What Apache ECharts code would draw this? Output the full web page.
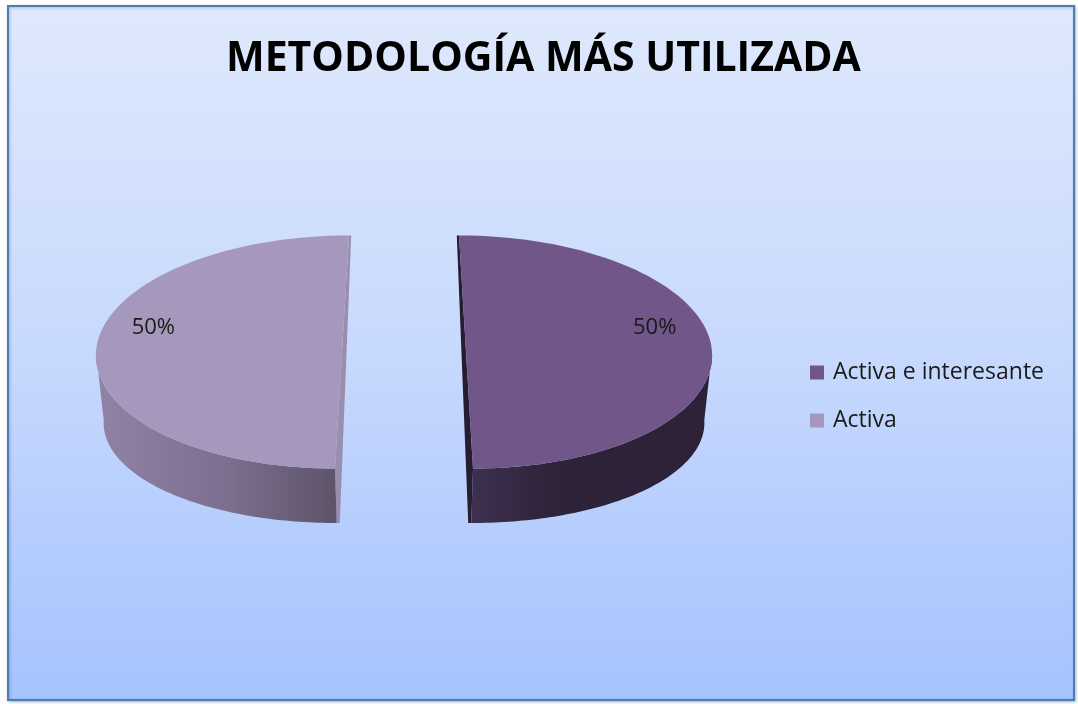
<!DOCTYPE html>
<html>
<head>
<meta charset="utf-8">
<title>Metodología más utilizada</title>
<script src="https://cdn.jsdelivr.net/npm/echarts@6/dist/echarts.min.js"></script>
<style>
    html, body {margin: 0; padding: 0; background: #fff;}
    #main {width: 1078px; height: 704px;}
</style>
</head>
<body>
<div id="main"></div>
<script>
// datos del gráfico
const categories = ['Activa e interesante', 'Activa'];
const values = [50, 50];

// colores de cada porción: cara superior, lateral (izq -> der) y corte
const topColors = ['#705689', '#a698bc'];
const sideColors = [
    [['#3e3050', 0], ['#2e2339', 0.35], ['#2c2137', 1]],
    [['#9183a5', 0], ['#7b6e8e', 0.55], ['#5e5469', 1]]
];
const cutColors = ['#271d31', '#9a8eae'];

// geometría del pastel 3D (px)
const CX = 404, CY = 352;     // centro de la cara superior
const RA = 246, RB = 116.5;   // semiejes de la elipse superior
const EXPLODE = 62;           // separación de las porciones
const PERSP = 0.113;          // la separación crece hacia el frente
const CYB = 420, RBB = 103;   // elipse inferior
const SB = 0.975;             // la base se estrecha un poco

const total = values.reduce((a, b) => a + b, 0);

// u, v: posición en el disco (radio 1); dir: dirección de la separación
function proj(u, v, dir, bottom, scale) {
    const s = bottom ? SB : 1;
    const x = RA * u + EXPLODE * dir * (1 + PERSP * v);
    return [CX + x * s * (scale || 1), bottom ? CYB + RBB * v : CY + RB * v];
}

function renderSlice(idx) {
    return function (params, api) {
        const val = api.value(0);
        let before = 0;
        for (let i = 0; i < idx; i++) before += values[i];
        const a0 = before / total * Math.PI * 2;
        const a1 = (before + val) / total * Math.PI * 2;
        const bis = (a0 + a1) / 2;
        const dir = Math.sin(bis);
        const pt = (phi, r, bottom, scale) =>
            proj(r * Math.sin(phi), -r * Math.cos(phi), dir, bottom, scale);
        const arc = (from, to, bottom) => {
            const pts = [];
            const n = 80;
            for (let k = 0; k <= n; k++) pts.push(pt(from + (to - from) * k / n, 1, bottom));
            return pts;
        };

        const children = [];
        // cara del corte (franja fina hacia el centro)
        const far = Math.cos(a0) > Math.cos(a1) ? a0 : a1;
        const near = far === a0 ? a1 : a0;
        children.push({
            type: 'polygon',
            shape: {points: [
                pt(far, 1, false), pt(near, 1, false), pt(near, 1, true),
                pt(near, 1, true, 0.955), pt(far, 1, false, 0.96)
            ]},
            style: {fill: cutColors[idx]}
        });
        // lateral visible (mitad delantera)
        const s0 = Math.max(a0, Math.PI / 2), s1 = Math.min(a1, Math.PI * 1.5);
        if (s1 > s0) {
            const pts = arc(s0, s1, false).concat(arc(s0, s1, true).reverse());
            children.push({
                type: 'polygon',
                shape: {points: pts},
                style: {
                    fill: {
                        type: 'linear', x: 0, y: 0, x2: 1, y2: 0,
                        colorStops: sideColors[idx].map(c => ({offset: c[1], color: c[0]}))
                    }
                }
            });
        }
        // cara superior
        children.push({
            type: 'polygon',
            shape: {points: [pt(a0, 0, false)].concat(arc(a0, a1, false))},
            style: {fill: topColors[idx]}
        });
        // etiqueta de porcentaje, un poco hacia arriba de la bisectriz
        const la = bis - Math.sign(dir) * Math.PI / 12;
        const lp = pt(la, 0.8, false);
        children.push({
            type: 'text',
            x: lp[0], y: lp[1],
            style: {
                text: Math.round(val / total * 100) + '%',
                fontFamily: 'Open Sans',
                fontSize: 22,
                fill: '#1a1a1a',
                align: 'center',
                verticalAlign: 'middle'
            }
        });
        return {type: 'group', children: children};
    };
}

const myChart = echarts.init(document.getElementById('main'));
myChart.setOption({
    animation: false,
    backgroundColor: '#ffffff',
    title: {
        text: 'METODOLOGÍA MÁS UTILIZADA',
        left: 221,
        top: 34,
        textStyle: {
            fontFamily: 'Open Sans',
            fontWeight: 'bold',
            fontSize: 41,
            color: '#000'
        }
    },
    graphic: [{
        type: 'rect',
        z: -10,
        shape: {x: 8, y: 6, width: 1066, height: 694},
        style: {
            fill: {
                type: 'linear', x: 0, y: 0, x2: 0, y2: 1,
                colorStops: [
                    {offset: 0, color: '#dfe9fc'},
                    {offset: 0.5, color: '#c7d9fd'},
                    {offset: 1, color: '#a6c3fd'}
                ]
            },
            stroke: '#4a7ebb',
            lineWidth: 2,
            shadowBlur: 3,
            shadowColor: 'rgba(0,0,0,0.25)',
            shadowOffsetX: 1,
            shadowOffsetY: 1
        }
    }],
    legend: {
        orient: 'vertical',
        left: 805,
        top: 356,
        icon: 'rect',
        itemWidth: 14,
        itemHeight: 14,
        itemGap: 25,
        textStyle: {
            fontFamily: 'Open Sans',
            fontSize: 23,
            color: '#1a1a1a',
            padding: [0, 0, 0, 4]
        },
        data: categories.map((c, i) => ({name: c, itemStyle: {color: topColors[i]}}))
    },
    series: categories.map((c, i) => ({
        type: 'custom',
        name: c,
        coordinateSystem: 'none',
        itemStyle: {color: topColors[i]},
        renderItem: renderSlice(i),
        data: [[values[i]]]
    }))
});
</script>
</body>
</html>
